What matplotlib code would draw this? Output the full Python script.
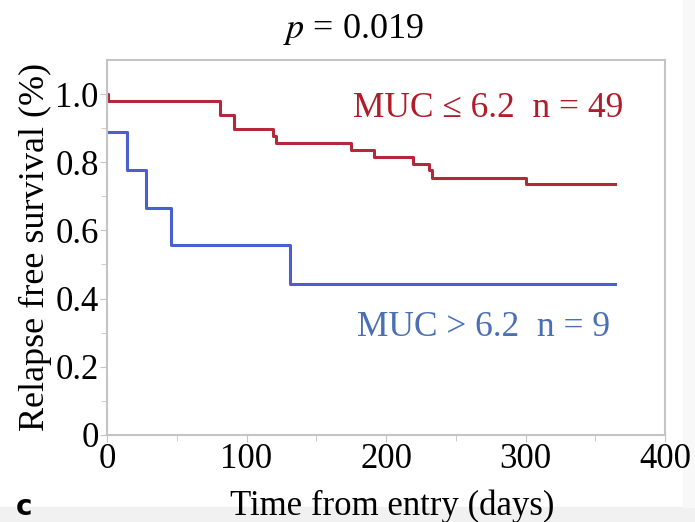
import matplotlib
matplotlib.use("Agg")
from matplotlib import pyplot as plt
from matplotlib.patches import Rectangle

# Kaplan-Meier steps (days, survival)
low_days = [0, 1, 81, 91, 119, 121, 175, 191, 219, 231, 233, 300, 364]
low_surv = [1.0, 0.980, 0.939, 0.898, 0.878, 0.857, 0.837, 0.816, 0.796, 0.776, 0.755, 0.735, 0.735]

high_days = [0, 14, 28, 46, 131, 364]
high_surv = [0.889, 0.778, 0.667, 0.556, 0.444, 0.444]

y_ticks = [0, 0.2, 0.4, 0.6, 0.8, 1.0]
y_labels = ["0", "0.2", "0.4", "0.6", "0.8", "1.0"]
x_ticks = [0, 100, 200, 300, 400]

red = "#b5273a"
blue = "#4a5fd3"
frame = "#c4c4c4"
serif = "Liberation Serif"

fig = plt.figure(figsize=(6.95, 5.22), dpi=100)
# screenshot-style grey strips at the bottom and right edge
fig.patches.append(Rectangle((0, 0), 1, 0.028, transform=fig.transFigure,
                             color="#f1f1f1", zorder=-5))
fig.patches.append(Rectangle((0.983, 0.028), 0.017, 0.972, transform=fig.transFigure,
                             color="#f8f8f8", zorder=-5))

ax = fig.add_axes([0.154, 0.167, 0.803, 0.718])
ax.patch.set_alpha(0)
ax.step(low_days, low_surv, where="post", color=red, lw=2.2)
ax.step(high_days, high_surv, where="post", color=blue, lw=2.2)

ax.set_xlim(0, 400)
ax.set_ylim(0, 1.1)
ax.set_yticks(y_ticks)
ax.set_yticklabels(y_labels)
ax.set_xticks(x_ticks)
ax.set_xticks([50, 150, 250, 350], minor=True)
ax.set_yticks([0.1, 0.3, 0.5, 0.7, 0.9], minor=True)
ax.tick_params(which="major", length=5, color=frame, labelsize=25, pad=1)
ax.tick_params(which="minor", length=4, color=frame)
for lab in ax.get_xticklabels() + ax.get_yticklabels():
    lab.set_fontfamily(serif)
for sp in ax.spines.values():
    sp.set_color(frame)
    sp.set_linewidth(1.5)

ax.set_xlabel("Time from entry (days)", fontsize=25, family=serif)
ax.xaxis.label.set_va("baseline")
ax.xaxis.set_label_coords(0.511, -0.214)
ax.set_ylabel("Relapse free survival (%)", fontsize=26, family=serif, labelpad=2)

ax.text(273, 0.957, "MUC \u2264 6.2  n = 49", fontsize=25.5, family=serif,
        color="#b01c2a", ha="center", va="center")
ax.text(270, 0.316, "MUC > 6.2  n = 9", fontsize=25.5, family=serif,
        color="#4a6fb5", ha="center", va="center")

fig.text(0.509, 0.943, r"$p$ = 0.019", fontsize=26, family=serif,
         ha="center", va="center", math_fontfamily="stix")
fig.text(0.022, 0.002, "c", fontsize=20, family="DejaVu Sans", weight="bold",
         ha="left", va="bottom")

fig.savefig("out.png", dpi=100)
